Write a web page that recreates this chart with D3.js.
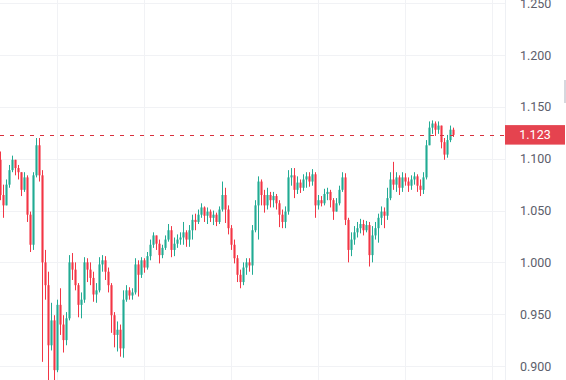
<!DOCTYPE html>
<html><head><meta charset="utf-8">
<script src="https://cdn.jsdelivr.net/npm/d3@7/dist/d3.min.js"></script>
<style>body{margin:0;background:#fff;overflow:hidden}svg{display:block}</style>
</head><body><svg id="c" width="566" height="380"></svg>
<script>
const firstOpen = 1.099;
const closes = [
1.065,1.055,1.075,1.089,1.099,1.091,1.087,1.070,1.082,1.046,
1.017,1.084,1.113,1.084,1.000,0.978,0.920,0.944,0.896,0.959,
0.940,0.925,0.946,1.000,0.993,0.978,0.959,0.964,1.000,0.993,
0.985,0.969,0.973,0.998,1.002,0.991,0.978,0.949,0.930,0.935,
0.917,0.964,0.973,0.968,0.971,0.998,0.988,1.002,0.995,1.006,
1.017,1.026,1.018,1.007,1.014,1.022,1.031,1.012,1.018,1.022,
1.024,1.029,1.022,1.031,1.041,1.039,1.046,1.053,1.045,1.049,
1.043,1.046,1.039,1.051,1.065,1.051,1.033,1.017,1.004,0.988,
0.981,0.995,1.000,0.997,1.031,1.055,1.078,1.065,1.055,1.065,
1.060,1.064,1.057,1.046,1.039,1.049,1.082,1.084,1.070,1.077,
1.072,1.080,1.083,1.078,1.085,1.055,1.060,1.057,1.066,1.068,
1.060,1.049,1.057,1.070,1.082,1.041,1.012,1.022,1.029,1.033,
1.037,1.031,1.036,1.007,1.026,1.033,1.043,1.049,1.045,1.062,
1.080,1.075,1.082,1.072,1.082,1.078,1.074,1.080,1.083,1.074,
1.070,1.082,1.113,1.130,1.134,1.128,1.132,1.116,1.104,1.118,
1.128,1.123];
const highs = [
1.107,1.075,1.080,1.094,1.103,1.099,1.094,1.087,1.087,1.084,
1.049,1.087,1.120,1.120,1.089,1.012,0.991,0.961,0.949,0.964,
0.975,0.949,0.952,1.007,1.009,1.000,0.980,0.971,1.005,1.004,
1.000,0.991,0.980,1.005,1.007,1.006,0.995,0.980,0.952,0.943,
0.940,0.973,0.978,0.976,0.975,1.004,1.002,1.005,1.004,1.010,
1.022,1.029,1.026,1.022,1.017,1.026,1.037,1.035,1.024,1.027,
1.029,1.039,1.031,1.036,1.046,1.047,1.051,1.057,1.054,1.053,
1.051,1.050,1.048,1.054,1.078,1.072,1.055,1.036,1.022,1.007,
0.993,1.000,1.004,1.004,1.036,1.060,1.083,1.080,1.070,1.072,
1.068,1.068,1.066,1.060,1.051,1.054,1.089,1.091,1.091,1.083,
1.080,1.085,1.087,1.087,1.090,1.087,1.065,1.064,1.071,1.072,
1.070,1.062,1.062,1.074,1.087,1.086,1.043,1.029,1.035,1.039,
1.042,1.041,1.040,1.039,1.035,1.039,1.047,1.054,1.053,1.072,
1.087,1.097,1.087,1.084,1.087,1.086,1.082,1.084,1.087,1.085,
1.080,1.087,1.118,1.136,1.137,1.136,1.136,1.132,1.120,1.123,
1.132,1.130];
const lows = [
1.060,1.043,1.055,1.072,1.087,1.084,1.080,1.064,1.068,1.039,
1.010,1.012,1.082,1.078,0.904,0.964,0.885,0.915,0.882,0.894,
0.930,0.913,0.920,0.944,0.983,0.973,0.947,0.946,0.961,0.981,
0.978,0.962,0.961,0.971,0.991,0.983,0.971,0.932,0.918,0.914,
0.909,0.908,0.962,0.964,0.964,0.969,0.967,0.985,0.990,0.993,
1.002,1.014,1.012,0.999,1.004,1.012,1.020,1.005,1.006,1.014,
1.017,1.017,1.015,1.015,1.022,1.031,1.037,1.043,1.039,1.037,
1.039,1.036,1.035,1.037,1.049,1.038,1.027,1.012,0.999,0.981,
0.975,0.978,0.988,0.991,0.988,1.029,1.022,1.055,1.048,1.051,
1.053,1.053,1.051,1.034,1.033,1.033,1.046,1.074,1.062,1.066,
1.067,1.069,1.072,1.073,1.074,1.043,1.051,1.054,1.055,1.060,
1.053,1.041,1.049,1.055,1.068,1.036,1.000,1.006,1.017,1.024,
1.028,1.026,1.029,0.996,1.000,1.022,1.019,1.036,1.033,1.041,
1.060,1.070,1.068,1.065,1.068,1.074,1.068,1.070,1.075,1.068,
1.064,1.066,1.080,1.113,1.124,1.122,1.124,1.110,1.099,1.101,
1.116,1.121];
const priceTicks = [0.900, 0.950, 1.000, 1.050, 1.100, 1.150, 1.200, 1.250];
const timeGridBars = [19, 48, 77, 106, 135, 164];

const W = 566, H = 380, plotRight = 505;
const upColor = "#22ab94", downColor = "#f23645";
const bars = closes.map((c, i) => ({
  i, o: i === 0 ? firstOpen : closes[i - 1], h: highs[i], l: lows[i], c
}));
const lastClose = closes[closes.length - 1];

const svg = d3.select("#c");
const x = d3.scaleLinear().domain([0, closes.length - 1]).range([0, 453]);
const y = d3.scaleLinear().domain([0.9, 1.25]).range([366, 3.3]);

const plot = svg.append("g");
svg.append("clipPath").attr("id", "pc").append("rect")
  .attr("x", 0).attr("y", 0).attr("width", plotRight).attr("height", H);

// grid
const grid = plot.append("g").attr("stroke", "#f1f2f5").attr("stroke-width", 1);
grid.selectAll("line.h").data(priceTicks).join("line").attr("class", "h")
  .attr("x1", 0).attr("x2", plotRight)
  .attr("y1", d => Math.round(y(d)) + 0.5).attr("y2", d => Math.round(y(d)) + 0.5);
grid.selectAll("line.v").data(timeGridBars).join("line").attr("class", "v")
  .attr("x1", d => Math.round(x(d)) + 0.5).attr("x2", d => Math.round(x(d)) + 0.5)
  .attr("y1", 0).attr("y2", H);
// price scale border
svg.append("line").attr("x1", plotRight + 0.5).attr("x2", plotRight + 0.5)
  .attr("y1", 0).attr("y2", H).attr("stroke", "#eef0f4");

// candles
const cg = plot.append("g").attr("clip-path", "url(#pc)");
const bodyW = 2.4;
const cs = cg.selectAll("g.c").data(bars).join("g").attr("class", "c");
cs.append("line")
  .attr("x1", d => x(d.i) + 0.5).attr("x2", d => x(d.i) + 0.5)
  .attr("y1", d => y(d.h)).attr("y2", d => y(d.l))
  .attr("stroke", d => d.c >= d.o ? upColor : downColor).attr("stroke-width", 1);
cs.append("rect")
  .attr("x", d => x(d.i) + 0.5 - bodyW / 2)
  .attr("width", bodyW)
  .attr("y", d => y(Math.max(d.o, d.c)))
  .attr("height", d => Math.max(1, Math.abs(y(d.o) - y(d.c))))
  .attr("fill", d => d.c >= d.o ? upColor : downColor)
  .attr("fill-opacity", 0.8);

// last price dashed line
const ly = Math.round(y(lastClose)) + 0.5;
svg.append("line").attr("x1", 0).attr("x2", plotRight).attr("y1", ly).attr("y2", ly)
  .attr("stroke", "#d9303d").attr("stroke-width", 1).attr("stroke-dasharray", "4,6");

// price axis
const axis = d3.axisRight(y).tickValues(priceTicks).tickFormat(d3.format(".3f"))
  .tickSize(0).tickPadding(15);
const ag = svg.append("g").attr("transform", `translate(${plotRight},0)`).call(axis);
ag.select(".domain").remove();
ag.selectAll("text").attr("fill", "#5d606b").style("font-family", "Roboto, sans-serif")
  .style("font-size", "12.5px");

// last price label
svg.append("rect").attr("x", plotRight).attr("y", y(lastClose) - 9.8)
  .attr("width", 60).attr("height", 19.5).attr("fill", "#e5434f");
svg.append("text").attr("x", plotRight + 30).attr("y", y(lastClose))
  .attr("dy", "0.35em").attr("text-anchor", "middle").attr("fill", "#fff")
  .style("font-family", "Roboto, sans-serif").style("font-size", "12.5px")
  .text(d3.format(".3f")(lastClose));

// scrollbar hint
svg.append("rect").attr("x", 564).attr("y", 80).attr("width", 2).attr("height", 23).attr("fill", "#d6d8de");
</script></body></html>
